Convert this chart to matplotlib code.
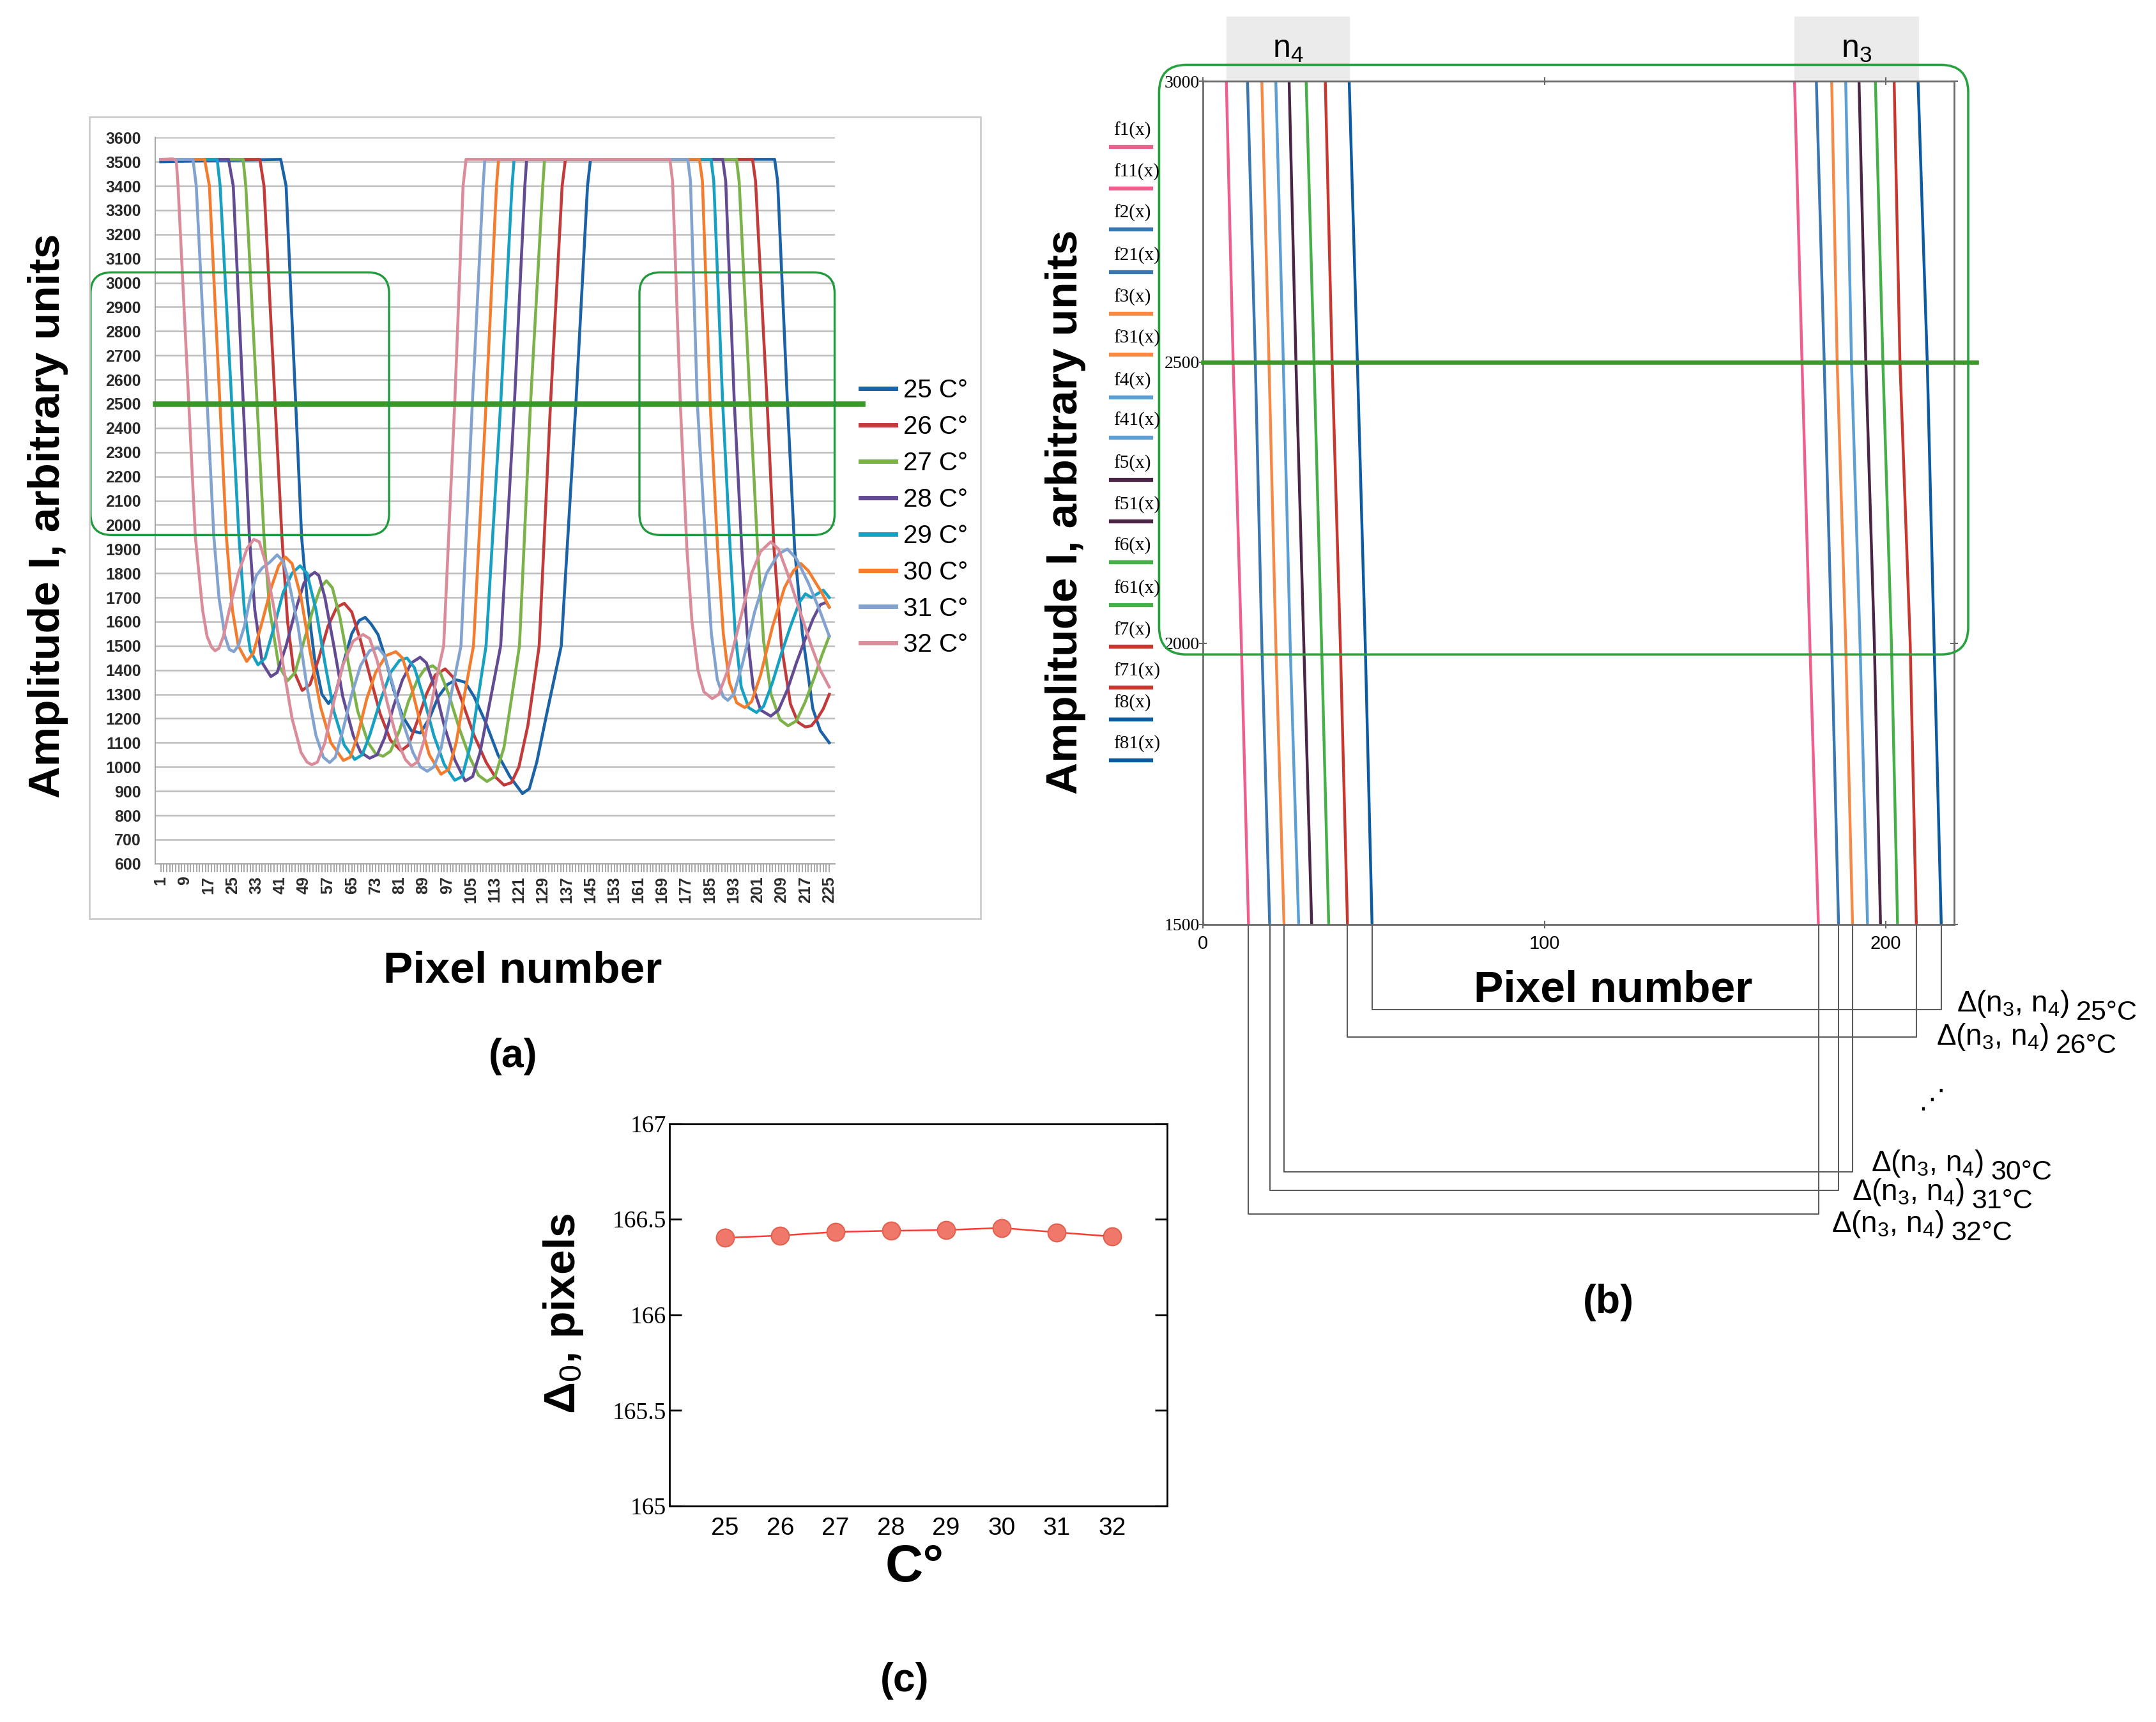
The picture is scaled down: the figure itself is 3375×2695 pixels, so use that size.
import matplotlib
matplotlib.use('Agg')
import matplotlib.pyplot as plt
import matplotlib.transforms as mtransforms
from matplotlib.patches import FancyBboxPatch, Rectangle
from matplotlib.lines import Line2D

plt.rcParams['font.family'] = ['Liberation Sans', 'DejaVu Sans']
plt.rcParams['mathtext.fontset'] = 'custom'
plt.rcParams['mathtext.rm'] = 'Liberation Sans'
plt.rcParams['mathtext.it'] = 'Liberation Sans:italic'
plt.rcParams['mathtext.bf'] = 'Liberation Sans:bold'

# ---------------- panel (a): amplitude vs pixel, key points
labels_a = ['25 C°', '26 C°', '27 C°', '28 C°', '29 C°', '30 C°', '31 C°', '32 C°']
colors_a = ['#1b63a6', '#c23a3a', '#7cb249', '#634b94', '#16a0c2', '#f27d2e', '#82a3cf', '#db8c9a']

px_25 = [1, 20, 41.2, 43, 48.2, 50, 52.5, 55, 57.2, 59.5, 62, 65, 67.5, 69.5, 71.5, 73.8, 76, 79, 82, 85, 88, 91,
         94, 97, 100, 103, 106, 110, 114, 118, 122.2, 124.5, 127, 130, 135.2, 140.1, 144, 145, 206.7, 207.7, 211,
         213.4, 216, 219.5, 222, 225]
amp_25 = [3500, 3505, 3510, 3400, 1950, 1700, 1450, 1300, 1262, 1300, 1420, 1550, 1605, 1618, 1590, 1547, 1460,
          1320, 1210, 1150, 1140, 1200, 1290, 1340, 1360, 1350, 1290, 1180, 1050, 960, 890, 910, 1020, 1200, 1500,
          2500, 3400, 3510, 3510, 3420, 2500, 1900, 1550, 1240, 1150, 1100]

px_26 = [1, 34.2, 35.6, 41.6, 43.5, 45.5, 48.4, 51, 54, 57, 60, 62.5, 65, 68, 71, 74.5, 78, 81.5, 84, 87, 90, 93,
         96.3, 99, 102, 106, 110, 113, 116, 118.5, 121, 124, 127.8, 131.6, 135.5, 136.6, 199.3, 200.3, 204.2,
         206.5, 209, 212, 214.5, 217, 219, 221, 223, 225]
amp_26 = [3510, 3510, 3400, 1950, 1600, 1400, 1316, 1340, 1450, 1580, 1660, 1676, 1640, 1520, 1380, 1220, 1110,
          1067, 1090, 1190, 1300, 1380, 1405, 1370, 1270, 1130, 1020, 960, 925, 935, 1000, 1170, 1500, 2500, 3400,
          3510, 3510, 3420, 2500, 1900, 1500, 1260, 1185, 1165, 1170, 1200, 1240, 1300]

px_27 = [1, 28.6, 29.5, 35.6, 37.5, 40.5, 43.5, 46, 49, 52, 54.5, 56.5, 58.5, 61, 64, 67, 70.5, 73, 75.5, 78, 81,
         84, 87, 89.5, 92.1, 94.5, 97.5, 101, 104.5, 107.5, 110.3, 113, 116, 118.5, 121.2, 124.9, 129, 129.6,
         193.9, 194.8, 198.5, 201, 203, 205.5, 208.5, 211.2, 214, 217, 220, 222.5, 225]
amp_27 = [3510, 3510, 3400, 1950, 1650, 1420, 1356, 1390, 1520, 1650, 1740, 1769, 1740, 1620, 1420, 1230, 1100,
          1055, 1044, 1065, 1150, 1270, 1360, 1405, 1418, 1395, 1300, 1160, 1040, 965, 940, 960, 1080, 1280, 1500,
          2500, 3400, 3510, 3510, 3420, 2500, 1900, 1520, 1300, 1195, 1170, 1190, 1270, 1370, 1460, 1540]

px_28 = [1, 23.7, 25.3, 30.7, 32.5, 35, 37.9, 40, 43, 46, 49, 51, 52.6, 54, 56, 59, 62, 65.5, 68, 71, 73.5, 76, 79,
         82, 85, 87.9, 90, 93, 96, 99.5, 103, 105.5, 108, 111, 114.9, 119.5, 123, 123.6, 189.3, 190.3, 193.2,
         195.7, 197.5, 199.5, 202, 205.4, 208, 211, 214, 217, 219.5, 222, 224, 225]
amp_28 = [3510, 3510, 3400, 1950, 1650, 1430, 1373, 1390, 1500, 1640, 1760, 1790, 1804, 1790, 1700, 1500, 1290,
          1130, 1060, 1036, 1050, 1120, 1250, 1360, 1430, 1453, 1430, 1320, 1170, 1030, 942, 960, 1060, 1250, 1500,
          2500, 3400, 3510, 3510, 3420, 2500, 1900, 1550, 1330, 1235, 1210, 1235, 1320, 1430, 1530, 1610, 1670,
          1680, 1660]

px_29 = [1, 19.9, 20.9, 27.2, 29, 31, 33.6, 36, 39, 42, 45, 47.7, 50, 53, 56, 59, 62.5, 66, 68.5, 71, 74.5, 78, 81,
         83.5, 86, 89, 92.5, 96, 99.5, 102, 105, 107.5, 110, 114.9, 118.7, 119.4, 185.4, 186.3, 189.3, 191.8,
         193.5, 195.5, 198, 200.6, 203, 206, 209, 212, 215, 217, 219, 221, 223, 225]
amp_29 = [3510, 3510, 3400, 1950, 1650, 1480, 1422, 1450, 1580, 1720, 1800, 1831, 1800, 1650, 1430, 1230, 1090,
          1031, 1050, 1130, 1270, 1390, 1440, 1450, 1410, 1290, 1130, 1010, 945, 960, 1100, 1300, 1500, 2500, 3400,
          3510, 3510, 3420, 2500, 1900, 1550, 1330, 1245, 1225, 1250, 1350, 1470, 1580, 1680, 1715, 1700, 1715,
          1730, 1700]

px_30 = [1, 15.7, 17.3, 23, 25, 27, 29.8, 32, 35, 38, 40.5, 42.8, 45, 48, 51, 54.5, 58, 62.2, 64.5, 67, 70, 73,
         76.5, 79.8, 82, 85, 88, 91, 94.9, 97.5, 100, 102.5, 105.8, 110, 113.5, 114.2, 181.5, 182.5, 185.1, 187.6,
         189.5, 191.5, 194, 196.7, 199, 202, 206, 210, 213, 215.5, 218, 220, 222.5, 225]
amp_30 = [3510, 3510, 3400, 1950, 1650, 1500, 1436, 1470, 1600, 1740, 1830, 1867, 1840, 1700, 1480, 1250, 1100,
          1027, 1040, 1130, 1280, 1390, 1460, 1476, 1450, 1330, 1180, 1050, 970, 990, 1100, 1280, 1500, 2500, 3400,
          3510, 3510, 3420, 2500, 1900, 1550, 1350, 1265, 1245, 1270, 1380, 1580, 1740, 1810, 1840, 1810, 1770,
          1720, 1660]

px_31 = [1, 11.8, 12.9, 18.8, 20.5, 22.5, 24, 25.5, 27, 29, 31, 33, 35, 37.5, 40, 42, 44, 47, 50, 53, 55.5, 57.6,
         59.5, 62, 65, 68, 71, 73.8, 76, 79, 82, 85.5, 88, 90.3, 92.5, 95, 97.5, 101.6, 105.4, 109, 109.6, 177.6,
         178.5, 180.8, 183.7, 185.5, 187.5, 189.5, 191, 193, 196, 200, 204, 208, 211, 214, 218, 222, 225]
amp_31 = [3510, 3510, 3400, 1950, 1700, 1540, 1485, 1476, 1500, 1580, 1700, 1790, 1822, 1845, 1876, 1850, 1760,
          1582, 1330, 1130, 1040, 1018, 1040, 1150, 1300, 1420, 1480, 1493, 1460, 1330, 1190, 1060, 1000, 982,
          1000, 1080, 1250, 1500, 2500, 3400, 3510, 3510, 3420, 2500, 1900, 1550, 1360, 1290, 1275, 1300, 1430,
          1640, 1800, 1880, 1900, 1860, 1760, 1640, 1540]

px_32 = [1, 5, 6.2, 6.8, 12.6, 15, 16.5, 18, 19.2, 20.5, 22, 24, 27, 30, 32.2, 34, 36, 39, 42, 45, 48, 50, 51.6,
         53.5, 56, 59, 62, 65.5, 68.8, 71, 73.5, 77, 80.5, 83, 85, 87, 89.5, 92, 94, 95.8, 99.5, 102.3, 103.3,
         171.6, 172.5, 175.1, 177.3, 179, 181, 183, 185.8, 188, 191, 195, 199, 202, 205.4, 208, 211, 215, 219,
         222, 225]
amp_32 = [3510, 3512, 3505, 3400, 1950, 1650, 1540, 1495, 1480, 1490, 1540, 1650, 1800, 1905, 1940, 1930, 1850,
          1650, 1420, 1200, 1060, 1020, 1009, 1020, 1100, 1270, 1420, 1520, 1547, 1530, 1440, 1260, 1100, 1030,
          1004, 1020, 1120, 1280, 1400, 1500, 2500, 3400, 3510, 3510, 3420, 2500, 1900, 1600, 1400, 1310, 1282,
          1300, 1400, 1600, 1800, 1890, 1930, 1900, 1800, 1650, 1500, 1400, 1330]

px_a = [px_25, px_26, px_27, px_28, px_29, px_30, px_31, px_32]
amp_a = [amp_25, amp_26, amp_27, amp_28, amp_29, amp_30, amp_31, amp_32]
threshold = 2500
box_a_left = (-22.5, 77.5)
box_a_right = (161.4, 226.8)
box_a_amp = (1958, 3043)

# ---------------- panel (b): zoomed edges (x at 3000, 2500, 2000, 1500)
edge_amp = [3000, 2500, 2000, 1500]
colors_b = ['#ee5f8b', '#3a77b0', '#f58a48', '#5b9fd4', '#4a2546', '#45b047', '#c9362e', '#0c5aa0']
n4_edges = [[6.8, 8.8, 11.2, 13.3], [13.0, 15.3, 17.2, 19.5], [17.2, 19.3, 21.3, 23.7], [21.3, 23.5, 25.5, 28.0],
            [25.2, 27.2, 29.5, 31.8], [30.2, 32.5, 34.7, 36.8], [35.8, 37.8, 40.2, 42.3], [42.8, 45.2, 47.5, 49.5]]
n3_edges = [[173.3, 175.5, 177.8, 180.3], [179.7, 182.0, 184.2, 186.2], [184.2, 185.8, 188.3, 190.3],
            [188.3, 190.0, 192.5, 194.7], [192.2, 194.2, 196.7, 198.5], [197.0, 199.2, 201.7, 203.5],
            [202.5, 204.2, 207.2, 209.0], [209.5, 212.2, 214.2, 216.3]]
legend_b = ['f1(x)', 'f11(x)', 'f2(x)', 'f21(x)', 'f3(x)', 'f31(x)', 'f4(x)', 'f41(x)',
            'f5(x)', 'f51(x)', 'f6(x)', 'f61(x)', 'f7(x)', 'f71(x)', 'f8(x)', 'f81(x)']
delta_temps = ['25°C', '26°C', '30°C', '31°C', '32°C']
delta_curve = [7, 6, 2, 1, 0]

# ---------------- panel (c)
temps_c = [25, 26, 27, 28, 29, 30, 31, 32]
delta0 = [166.403, 166.415, 166.434, 166.440, 166.444, 166.455, 166.432, 166.410]

# layout helpers (positions on a 1568 x 1252 grid)
W, H = 1568, 1252
def fx(x): return x / W
def fy(y): return 1 - y / H
def rect(l, t, r, b): return [fx(l), fy(b), (r - l) / W, (b - t) / H]

fig = plt.figure(figsize=(33.75, 26.95), dpi=100)

# ======================= (a)
fig.add_artist(Rectangle((fx(65), fy(668)), (713 - 65) / W, (668 - 85) / H, transform=fig.transFigure,
                         fill=False, ec='#cdcdcd', lw=2))
ax = fig.add_axes(rect(113, 100, 607, 628))
for x, y, c, lab in zip(px_a, amp_a, colors_a, labels_a):
    ax.plot(x, y, color=c, lw=3.3, label=lab, solid_joinstyle='round')
ax.set_xlim(-0.8, 226.8)
ax.set_ylim(600, 3600)
ax.set_yticks(range(600, 3601, 100))
ax.set_xticks(range(1, 226, 8))
ax.set_xticks(range(1, 226), minor=True)
ax.tick_params(axis='x', which='both', direction='out', length=9, width=1.2, color='#9a9a9a')
ax.tick_params(axis='x', which='major', labelrotation=90, labelsize=18, pad=5)
ax.tick_params(axis='y', length=0, labelsize=18, pad=16)
for t in ax.get_xticklabels() + ax.get_yticklabels():
    t.set_fontweight('bold')
    t.set_color('#2a2a2a')
ax.grid(axis='y', color='#bdbdbd', lw=1.8)
ax.set_axisbelow(True)
for s in ['top', 'right']:
    ax.spines[s].set_visible(False)
for s in ['left', 'bottom']:
    ax.spines[s].set_color('#a8a8a8')
    ax.spines[s].set_linewidth(1.5)

ax.plot([-0.8, 236], [threshold, threshold], color='#3a982a', lw=6.2, clip_on=False, zorder=5)
for x0, x1 in [box_a_left, box_a_right]:
    ax.add_patch(FancyBboxPatch((x0, box_a_amp[0]), x1 - x0, box_a_amp[1] - box_a_amp[0],
                                boxstyle='round,pad=0,rounding_size=7', mutation_aspect=12.3,
                                fill=False, ec='#1f9a3c', lw=2.4, clip_on=False, zorder=6))

leg = ax.legend(loc='upper left', bbox_to_anchor=(fx(626), fy(275)), bbox_transform=fig.transFigure,
                frameon=False, fontsize=29, handlelength=1.35, handletextpad=0.3, labelspacing=0.47,
                borderpad=0, borderaxespad=0)
for ln in leg.get_lines():
    ln.set_linewidth(5)

fig.text(fx(35), fy(375), 'Amplitude I, arbitrary units', rotation=90, fontsize=50, fontweight='bold',
         ha='center', va='center')
fig.text(fx(380), fy(706), 'Pixel number', fontsize=50, fontweight='bold', ha='center', va='center')
fig.text(fx(373), fy(768), '(a)', fontsize=45, fontweight='bold', ha='center', va='center')

# ======================= (b)
axb = fig.add_axes(rect(875, 59, 1421, 672))
for i in range(8):
    axb.plot(n4_edges[i], edge_amp, color=colors_b[i], lw=3.2)
    axb.plot(n3_edges[i], edge_amp, color=colors_b[i], lw=3.2)
axb.set_xlim(0, 220)
axb.set_ylim(1500, 3000)
axb.set_xticks([0, 100, 200])
axb.set_yticks([1500, 2000, 2500, 3000])
axb.tick_params(axis='both', direction='inout', length=8, width=1.5, color='#666666', top=True, right=True)
axb.tick_params(axis='x', labelsize=21, pad=8)
axb.tick_params(axis='y', labelsize=20, pad=0)
for t in axb.get_yticklabels():
    t.set_family('Liberation Serif')
for s in axb.spines.values():
    s.set_color('#6a6a6a')
    s.set_linewidth(2)

axb.plot([0, 226.6], [threshold, threshold], color='#3f982c', lw=4.8, clip_on=False, zorder=5)
axb.add_patch(FancyBboxPatch((-12.9, 1980), 224.2 + 12.9, 3029 - 1980,
                             boxstyle='round,pad=0,rounding_size=8', mutation_aspect=6.07,
                             fill=False, ec='#28a23e', lw=2.6, clip_on=False, zorder=6))
for edges, name in [(n4_edges, 'n$_4$'), (n3_edges, 'n$_3$')]:
    lo = min(e[0] for e in edges)
    hi = max(e[0] for e in edges)
    axb.add_patch(Rectangle((lo, 3000), hi - lo, 115, color='#ebebeb', clip_on=False, zorder=0))
    axb.text((lo + hi) / 2, 3057, name, fontsize=36, ha='center', va='center', clip_on=False)

leg_y_b = [95, 125, 155, 186, 216, 246, 277, 306, 337, 367, 397, 428, 458, 488, 511, 541]
for k, (name, yy) in enumerate(zip(legend_b, leg_y_b)):
    fig.text(fx(810), fy(yy), name, family='Liberation Serif', fontsize=21, ha='left', va='center')
    fig.add_artist(Line2D([fx(808), fx(837)], [fy(yy + 12)] * 2, color=colors_b[k // 2], lw=4.5,
                          transform=fig.transFigure))

conn = mtransforms.blended_transform_factory(axb.transData, axb.transAxes)
conn_levels = [-0.101, -0.134, -0.294, -0.316, -0.344]
text_pos = [(1423, 735.6), (1408, 759.5), (1361, 851.5), (1347, 872.6), (1332, 895.6)]
for t, i, lev, (lx, ly) in zip(delta_temps, delta_curve, conn_levels, text_pos):
    xl = n4_edges[i][-1]
    xr = n3_edges[i][-1]
    axb.plot([xl, xl, xr, xr], [0, lev, lev, 0], transform=conn, color='#5c5c5c', lw=1.5, clip_on=False)
    main = fig.text(fx(lx), fy(ly), 'Δ(n$_3$, n$_4$)', fontsize=33, ha='left', va='baseline')
    axb.annotate(t, xy=(1, 0), xycoords=main, xytext=(8, -7), textcoords='offset points', fontsize=31,
                 ha='left', va='bottom', annotation_clip=False)
fig.text(fx(1405), fy(800), '⋰', family='DejaVu Sans', fontsize=30, ha='center', va='center')

fig.text(fx(775), fy(372), 'Amplitude I, arbitrary units', rotation=90, fontsize=50, fontweight='bold',
         ha='center', va='center')
fig.text(fx(1173), fy(720), 'Pixel number', fontsize=50, fontweight='bold', ha='center', va='center')
fig.text(fx(1170), fy(947), '(b)', fontsize=45, fontweight='bold', ha='center', va='center')

# ======================= (c)
axc = fig.add_axes(rect(487, 817, 849, 1095))
axc.plot(temps_c, delta0, color='#ff3b2f', lw=1.8, marker='o', ms=20, mfc='#f0786a', mec='#e4604f', mew=1.5)
axc.set_xlim(24, 33)
axc.set_ylim(165, 167)
axc.set_xticks(temps_c)
axc.set_xticks([26, 28, 30, 32], minor=True)
axc.tick_params(axis='x', which='major', length=0, labelsize=28, pad=12)
axc.tick_params(axis='x', which='minor', direction='in', length=14, width=2, top=True, bottom=True)
axc.set_yticks([165, 165.5, 166, 166.5, 167])
axc.set_yticklabels(['165', '165.5', '166', '166.5', '167'])
axc.tick_params(axis='y', direction='in', length=14, width=2, left=True, right=True, labelsize=27, pad=4)
for t in axc.get_yticklabels():
    t.set_family('Liberation Serif')
for s in axc.spines.values():
    s.set_linewidth(2)

fig.text(fx(410), fy(955), 'Δ$_0$, pixels', rotation=90, fontsize=50, fontweight='bold', ha='center', va='center')
fig.text(fx(665), fy(1140), 'C°', fontsize=59, fontweight='bold', ha='center', va='center')
fig.text(fx(658), fy(1222), '(c)', fontsize=45, fontweight='bold', ha='center', va='center')

fig.savefig('out.png', dpi=100)
